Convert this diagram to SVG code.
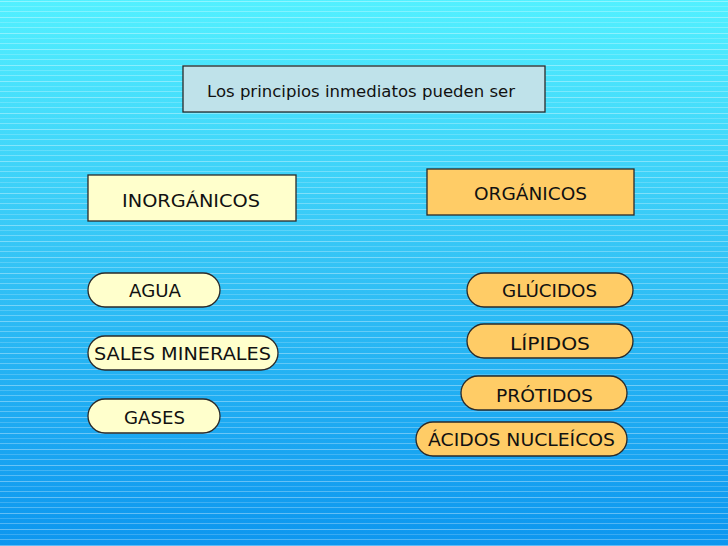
<svg xmlns="http://www.w3.org/2000/svg" width="728" height="546" viewBox="0 0 728 546">
  <defs>
    <linearGradient id="bg" x1="0" y1="0" x2="0" y2="1">
      <stop offset="0" stop-color="#52f0ff"/>
      <stop offset="0.45" stop-color="#36c6f6"/>
      <stop offset="1" stop-color="#0c96ef"/>
    </linearGradient>
    <pattern id="stripes" x="0" y="0" width="16" height="16" patternUnits="userSpaceOnUse">
      <rect x="0" y="1" width="16" height="1" fill="#ffffff" fill-opacity="0.35"/>
      <rect x="0" y="6" width="16" height="1" fill="#ffffff" fill-opacity="0.18"/>
      <rect x="0" y="11" width="16" height="1" fill="#ffffff" fill-opacity="0.28"/>
    </pattern>
    <style>
      .box { stroke: #2a2a2a; stroke-width: 1.3; }
      .title { fill: #bfe2ea; }
      .inorg { fill: #ffffcc; }
      .org { fill: #ffcc66; }
      text { font-family: "Comic Sans MS", "DejaVu Sans", sans-serif; fill: #111111; }
      .t16 { font-size: 16px; }
      .t17 { font-size: 17px; }
    </style>
  </defs>
  <rect x="0" y="0" width="728" height="546" fill="url(#bg)"/>
  <rect x="0" y="0" width="728" height="546" fill="url(#stripes)"/>

  <g id="title">
    <rect class="box title" x="183" y="66" width="362" height="46"/>
    <text class="t16" x="207" y="97" textLength="308" lengthAdjust="spacingAndGlyphs">Los principios inmediatos pueden ser</text>
  </g>

  <g id="inorganicos">
    <rect class="box inorg" x="88" y="175" width="208" height="46"/>
    <text class="t17" x="122" y="207" textLength="138" lengthAdjust="spacingAndGlyphs">INORGÁNICOS</text>
  </g>

  <g id="organicos">
    <rect class="box org" x="427" y="169" width="207" height="46"/>
    <text class="t17" x="474" y="200" textLength="113" lengthAdjust="spacingAndGlyphs">ORGÁNICOS</text>
  </g>

  <g id="agua">
    <rect class="box inorg" x="88" y="273" width="132" height="34" rx="17"/>
    <text class="t17" x="129" y="297" textLength="52" lengthAdjust="spacingAndGlyphs">AGUA</text>
  </g>

  <g id="sales">
    <rect class="box inorg" x="88" y="336" width="190" height="34" rx="17"/>
    <text class="t17" x="94" y="360" textLength="177" lengthAdjust="spacingAndGlyphs">SALES MINERALES</text>
  </g>

  <g id="gases">
    <rect class="box inorg" x="88" y="399" width="132" height="34" rx="17"/>
    <text class="t17" x="124" y="424" textLength="61" lengthAdjust="spacingAndGlyphs">GASES</text>
  </g>

  <g id="glucidos">
    <rect class="box org" x="467" y="273" width="166" height="34" rx="17"/>
    <text class="t17" x="502" y="297" textLength="95" lengthAdjust="spacingAndGlyphs">GLÚCIDOS</text>
  </g>

  <g id="lipidos">
    <rect class="box org" x="467" y="324" width="166" height="34" rx="17"/>
    <text class="t17" x="510" y="350" textLength="80" lengthAdjust="spacingAndGlyphs">LÍPIDOS</text>
  </g>

  <g id="protidos">
    <rect class="box org" x="461" y="376" width="166" height="34" rx="17"/>
    <text class="t17" x="496" y="402" textLength="97" lengthAdjust="spacingAndGlyphs">PRÓTIDOS</text>
  </g>

  <g id="acidos">
    <rect class="box org" x="416" y="422" width="211" height="34" rx="17"/>
    <text class="t17" x="428" y="446" textLength="187" lengthAdjust="spacingAndGlyphs">ÁCIDOS NUCLEÍCOS</text>
  </g>

  <g id="connectors"></g>
</svg>
